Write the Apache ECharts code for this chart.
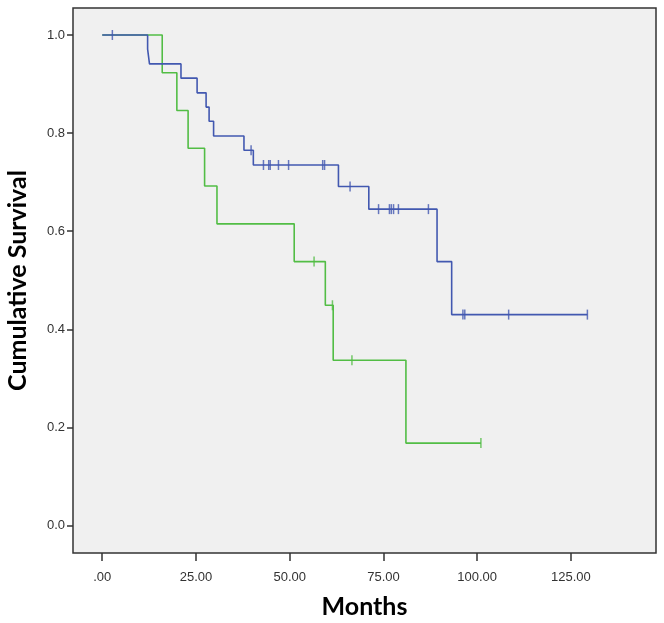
<!DOCTYPE html>
<html>
  <head>
    <meta charset="utf-8">
    <title>Cumulative Survival</title>
    <style type="text/css">
    html,body{margin:0;padding:0;background:#fff;}
    #km{width:664px;height:623px;}
    </style>
    <script src="https://cdn.jsdelivr.net/npm/echarts@6/dist/echarts.min.js"></script>
  </head>
  <body>
    <div id="km"></div>
    <script type="text/javascript">
      // step times (months) and survival after each drop
      var blueTimes = [0, 12.1, 12.6, 21.0, 25.3, 27.7, 28.5, 29.7, 37.8, 40.3, 63.0, 71.1, 89.3, 93.2];
      var blueSurv  = [1.0, 0.971, 0.941, 0.912, 0.882, 0.853, 0.824, 0.794, 0.765, 0.735, 0.691, 0.645, 0.538, 0.430];
      var blueEnd = 129.4;
      var blueCensor = [2.7, 39.7, 43.0, 44.4, 44.8, 47.0, 49.7, 58.8, 59.3, 66.1, 73.7, 76.6, 77.1, 77.7, 79.0, 87.0, 96.2, 96.7, 108.4, 129.4];

      var greenTimes = [0, 16.0, 19.9, 22.9, 27.3, 30.6, 51.2, 59.5, 61.6, 81.0];
      var greenSurv  = [1.0, 0.923, 0.846, 0.769, 0.692, 0.615, 0.538, 0.449, 0.337, 0.168];
      var greenEnd = 101.0;
      var greenCensor = [56.5, 61.4, 66.6, 101.0];

      var xTicks = [0, 25, 50, 75, 100, 125];
      var yTicks = [0, 0.2, 0.4, 0.6, 0.8, 1.0];

      function stepData(times, surv, end) {
        var d = [];
        for (var i = 0; i < times.length; i++) d.push([times[i], surv[i]]);
        d.push([end, surv[surv.length - 1]]);
        return d;
      }
      function survAt(times, surv, t) {
        var s = surv[0];
        for (var i = 0; i < times.length; i++) if (times[i] <= t) s = surv[i];
        return s;
      }
      function censorData(times, surv, cens) {
        return cens.map(function (t) { return [t, survAt(times, surv, t)]; });
      }

      var blue = '#4258b0', green = '#52bd45';
      var chart = echarts.init(document.getElementById('km'));
      chart.setOption({
        animation: false,
        grid: {
          left: 73, right: 8, top: 8, bottom: 70,
          outerBoundsMode: 'none', containLabel: false,
          show: true, backgroundColor: '#f0f0f0', borderColor: '#333', borderWidth: 1.5
        },
        xAxis: {
          type: 'value', min: -7.8, max: 147.7,
          name: 'Months', nameLocation: 'middle', nameGap: 41, nameMoveOverlap: false,
          nameTextStyle: { fontFamily: 'Lato', fontWeight: 'bold', fontSize: 25, color: '#000' },
          axisLine: { show: false, onZero: false },
          splitLine: { show: false },
          axisTick: { show: true, length: 8, customValues: xTicks, lineStyle: { color: '#333', width: 1.5 } },
          axisLabel: {
            customValues: xTicks, margin: 18, fontFamily: 'Liberation Sans', fontSize: 13, color: '#333',
            formatter: function (v) { return v === 0 ? '.00' : v.toFixed(2); }
          }
        },
        yAxis: {
          type: 'value', min: -0.056, max: 1.055,
          name: 'Cumulative Survival', nameLocation: 'middle', nameGap: 43, nameRotate: 90, nameMoveOverlap: false,
          nameTextStyle: { fontFamily: 'Lato', fontWeight: 'bold', fontSize: 25, color: '#000' },
          axisLine: { show: false, onZero: false },
          splitLine: { show: false },
          axisTick: { show: true, length: 6, customValues: yTicks, lineStyle: { color: '#333', width: 1.5 } },
          axisLabel: {
            customValues: yTicks, margin: 8, fontFamily: 'Liberation Sans', fontSize: 13, color: '#333',
            formatter: function (v) { return v.toFixed(1); }
          }
        },
        series: [
          {
            type: 'line', step: 'end', showSymbol: false, silent: true,
            data: stepData(greenTimes, greenSurv, greenEnd),
            lineStyle: { color: green, width: 1.6 }, z: 2
          },
          {
            type: 'line', step: 'end', showSymbol: false, silent: true,
            data: stepData(blueTimes, blueSurv, blueEnd),
            lineStyle: { color: blue, width: 1.6 }, z: 3
          },
          {
            type: 'scatter', symbol: 'rect', symbolSize: [1.5, 10],
            data: censorData(greenTimes, greenSurv, greenCensor),
            itemStyle: { color: green }, z: 4
          },
          {
            type: 'scatter', symbol: 'rect', symbolSize: [1.5, 10],
            data: censorData(blueTimes, blueSurv, blueCensor),
            itemStyle: { color: blue }, z: 5
          }
        ]
      });
    </script>
  </body>
</html>
